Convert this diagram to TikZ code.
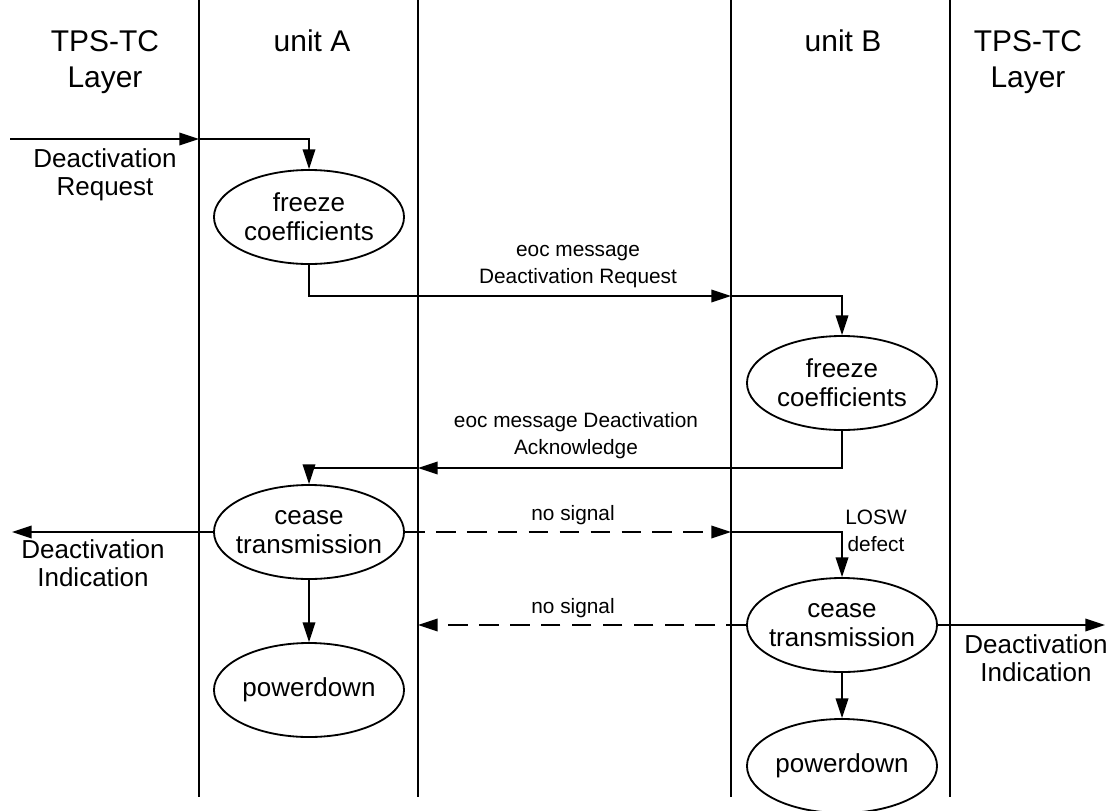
\documentclass[tikz,border=0pt]{standalone}
\usepackage{fontspec}
\setmainfont{Liberation Sans}
\usetikzlibrary{arrows.meta,positioning,shapes.geometric}

\begin{document}
\begin{tikzpicture}[
  x=0.025cm, y=-0.025cm,
  font=\fontsize{18.5pt}{20.5pt}\selectfont,
  state/.style={draw, ellipse, line width=1.3pt, align=center, inner xsep=-4.5pt, inner ysep=0pt, minimum width=4.75cm, minimum height=2.35cm},
  head/.style={align=center, inner sep=0pt, font=\fontsize{21.3pt}{25.6pt}\selectfont},
  lbl/.style={align=center, inner sep=0pt},
  msg/.style={align=center, inner sep=0pt, font=\fontsize{14.8pt}{19pt}\selectfont},
  arr/.style={-{Triangle[length=14pt, width=9pt]}, line width=1pt},
  lane/.style={line width=1pt}
]
\useasboundingbox (0,0) rectangle (1111,810);
\foreach \x in {199,418,731,950}
  \draw[lane] (\x,0) -- (\x,797);

\node[head, anchor=north] (tpsL) at (105,30) {TPS-TC\\Layer};
\node[head, anchor=base] (unA) at (312,51) {unit A};
\node[head, anchor=base] (unB) at (843,51) {unit B};
\node[head, anchor=north] (tpsR) at (1028,30) {TPS-TC\\Layer};

\node[state] (frzA) at (309,217) {freeze\\coefficients};
\node[state] (frzB) at (842,383) {freeze\\coefficients};
\node[state] (ceaseA) at (309,532) {cease\\transmission};
\node[state] (pwrA) at (309,690) {powerdown};
\node[state] (ceaseB) at (842,625) {cease\\transmission};
\node[state] (pwrB) at (842,766) {powerdown};

\coordinate (inL) at (10,139);
\coordinate (reqA) at (199,139);
\coordinate (reqB) at (731,296);
\coordinate (ackA) at (418,468);
\coordinate (indL) at (12,532);
\coordinate (sigB) at (731,532);
\coordinate (sigA) at (418,625);
\coordinate (indR) at (1105,625);

\node[lbl, anchor=north] (reqL) at (105,148) {Deactivation\\Request};
\node[lbl, anchor=north] (indLl) at (93,539) {Deactivation\\Indication};
\node[lbl, anchor=north] (indRl) at (1036,634) {Deactivation\\Indication};
\node[msg, anchor=north] (reqM) at (578,245) {eoc message\\Deactivation Request};
\node[msg, anchor=north] (ackM) at (576,412) {eoc message Deactivation\\Acknowledge};
\node[msg, anchor=base] (sigBl) at (573,520) {no signal};
\node[msg, anchor=base] (sigAl) at (573,613) {no signal};
\node[msg, anchor=north] (losw) at (876,510) {LOSW\\defect};

\draw[arr] (inL) -- (reqA);
\draw[arr] (reqA) -| (frzA);
\draw[arr] (frzA) |- (reqB);
\draw[arr] (reqB) -| (frzB);
\draw[arr] (frzB) |- (ackA);
\draw[arr] (ackA) -| (ceaseA);
\draw[arr] (ceaseA) -- (indL);
\draw[arr, dashed, dash pattern=on 14pt off 8pt] (ceaseA) -- (sigB);
\draw[arr] (sigB) -| (ceaseB);
\draw[arr, dashed, dash pattern=on 14pt off 8pt] (ceaseB) -- (sigA);
\draw[arr] (ceaseB) -- (indR);
\draw[arr] (ceaseA) -- (pwrA);
\draw[arr] (ceaseB) -- (pwrB);
\end{tikzpicture}
\end{document}
